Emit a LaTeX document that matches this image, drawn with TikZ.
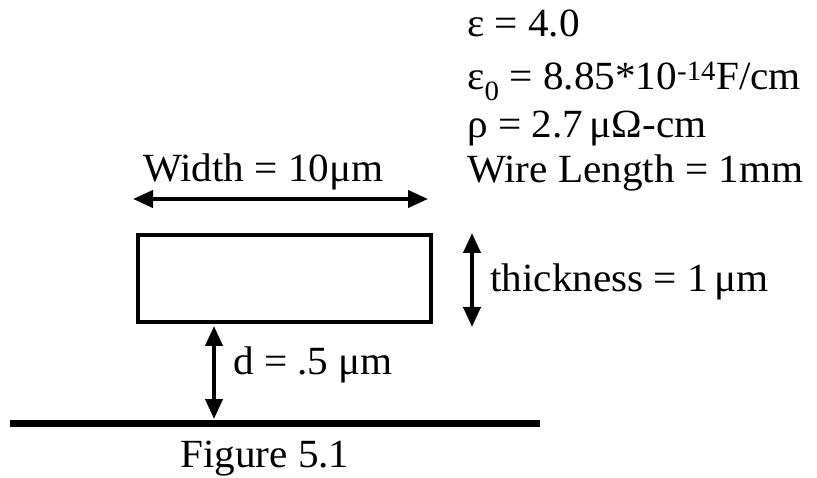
\documentclass[tikz,border=0pt]{standalone}
\usepackage{fontspec}
\setmainfont{Liberation Serif}[FakeStretch=1.03]
\usetikzlibrary{arrows.meta}
\begin{document}
\begin{tikzpicture}[x=1pt,y=-1pt,
  lbl/.style={anchor=base west,inner sep=0pt,font=\fontsize{40}{48}\selectfont},
  dim/.style={line width=4pt,{Triangle[length=20pt,width=17pt]}-{Triangle[length=20pt,width=17pt]}},
  wire/.style={draw,line width=4pt,minimum width=293pt,minimum height=87pt,inner sep=0pt,outer sep=0pt},
  ground/.style={line width=7pt}]
\useasboundingbox (0,0) rectangle (817,478);
% wire cross-section
\node[wire] (w) at (284.5,278.5) {};
% parameters
\node[lbl] (eps)  at (467,37)  {ε = 4.0};
\node[lbl] (eps0) at (467,90)  {ε\textsubscript{0} = 8.85*10\textsuperscript{-14}F/cm};
\node[lbl] (rho)  at (467,138) {ρ = 2.7\,μΩ-cm};
\node[lbl] (len)  at (467,183) {Wire Length = 1mm};
% dimension labels
\node[lbl] (wl) at (143,182) {Width = 10μm};
\node[lbl] (tl) at (490,292) {thickness = 1\,μm};
\node[lbl] (dl) at (233,375) {d = .5 μm};
\node[lbl] (fig) at (180,467) {Figure 5.1};
% coordinates
\coordinate (wa) at (133,199);
\coordinate (wb) at (428,199);
\coordinate (ta) at (472,233);
\coordinate (tb) at (472,327);
\coordinate (da) at (214,326);
\coordinate (db) at (214,419);
\coordinate (ga) at (10,423);
\coordinate (gb) at (540,423);
% arrows
\draw[dim] (wa) -- (wb);
\draw[dim] (ta) -- (tb);
\draw[dim] (da) -- (db);
\draw[ground] (ga) -- (gb);
\end{tikzpicture}
\end{document}
